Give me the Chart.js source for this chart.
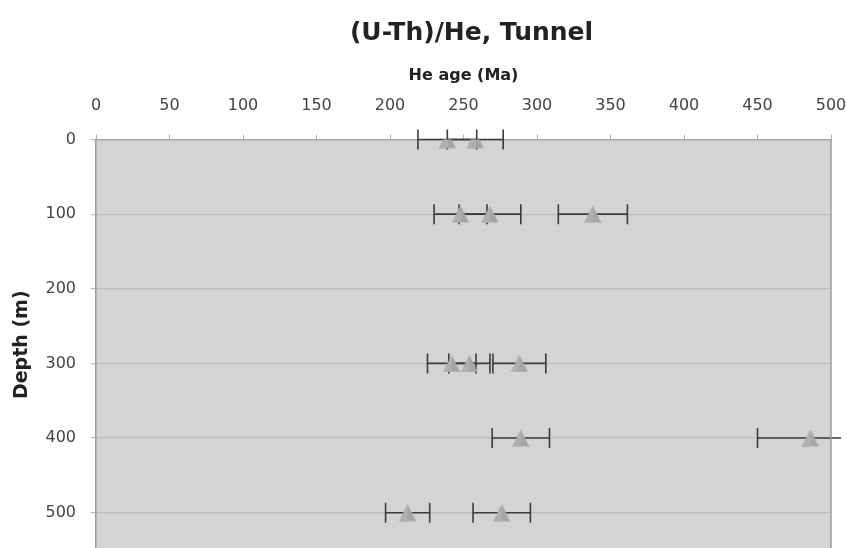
<!DOCTYPE html>
<html>
<head>
<meta charset="utf-8">
<title>(U-Th)/He, Tunnel</title>
<script src="https://cdn.jsdelivr.net/npm/chart.js@4.4.1/dist/chart.umd.min.js"></script>
<style>
    html, body { margin: 0; padding: 0; background: #fff; overflow: hidden; }
    #wrap { width: 847px; height: 560px; position: relative; }
</style>
</head>
<body>
<div id="wrap"><canvas id="he-chart"></canvas></div>
<script>

// He ages (Ma) with 1 sigma error, by sample depth (m)
var depths = [0, 0, 100, 100, 100, 300, 300, 300, 400, 400, 500, 500];
var ages = [239, 258, 248, 268, 338, 242, 254, 288, 289, 486, 212, 276];
var ageErrors = [20, 19, 18, 21, 23.5, 16.5, 14, 18, 19.5, 36, 15, 19.5];

var ageTicks = [0, 50, 100, 150, 200, 250, 300, 350, 400, 450, 500];
var depthTicks = [0, 100, 200, 300, 400, 500];

var fontName = "'DejaVu Sans', Verdana, sans-serif";

function triangleMarker() {
    var c = document.createElement('canvas');
    c.width = 18;
    c.height = 18;
    var g = c.getContext('2d');
    g.beginPath();
    g.moveTo(9, 0.5);
    g.lineTo(17.5, 17.5);
    g.lineTo(0.5, 17.5);
    g.closePath();
    g.fillStyle = '#a6a6a6';
    g.fill();
    // lighter left face
    g.beginPath();
    g.moveTo(9, 0.5);
    g.lineTo(9, 17.5);
    g.lineTo(0.5, 17.5);
    g.closePath();
    g.fillStyle = '#b0b0b0';
    g.fill();
    return c;
}

var points = depths.map(function (d, i) {
    return {x: ages[i], y: d, err: ageErrors[i]};
});

var plotBack = {
    id: 'plotBack',
    afterLayout: function (chart) {
        // title sits centred right of the depth axis
        chart.titleBlock.left = chart.chartArea.left;
        chart.titleBlock.right = chart.width;
    },
    beforeDraw: function (chart) {
        var a = chart.chartArea;
        var ctx = chart.ctx;
        ctx.save();
        ctx.fillStyle = '#d4d4d4';
        ctx.fillRect(a.left, a.top, a.right - a.left, a.bottom - a.top);
        ctx.restore();
    },
    afterDraw: function (chart) {
        var a = chart.chartArea;
        var ctx = chart.ctx;
        ctx.save();
        ctx.strokeStyle = '#9a9a9a';
        ctx.lineWidth = 1.5;
        ctx.beginPath();
        ctx.moveTo(a.right, a.top);
        ctx.lineTo(a.right, a.bottom);
        ctx.stroke();
        ctx.restore();
    }
};

var errorBars = {
    id: 'errorBars',
    beforeDatasetsDraw: function (chart) {
        var ctx = chart.ctx;
        var xs = chart.scales.x;
        var ys = chart.scales.y;
        var a = chart.chartArea;
        ctx.save();
        ctx.beginPath();
        ctx.rect(a.left, a.top - 12, a.right - a.left + 10, a.bottom - a.top + 12);
        ctx.clip();
        ctx.strokeStyle = '#3c3c3c';
        ctx.lineWidth = 1.6;
        points.forEach(function (p) {
            var x1 = xs.getPixelForValue(p.x - p.err);
            var x2 = xs.getPixelForValue(p.x + p.err);
            var y = ys.getPixelForValue(p.y);
            ctx.beginPath();
            ctx.moveTo(x1, y);
            ctx.lineTo(x2, y);
            ctx.moveTo(x1, y - 10);
            ctx.lineTo(x1, y + 10);
            ctx.moveTo(x2, y - 10);
            ctx.lineTo(x2, y + 10);
            ctx.stroke();
        });
        ctx.restore();
    }
};

var ctx2 = document.getElementById('he-chart');

var myChart = new Chart(ctx2, {
    type: 'scatter',
    data: {
        datasets: [{
            label: 'He age',
            data: points,
            pointStyle: triangleMarker(),
            pointRadius: 9,
            pointHoverRadius: 9
        }]
    },
    options: {
        responsive: true,
        maintainAspectRatio: false,
        animation: {duration: 0},
        layout: {padding: {left: 0, right: 16, top: 0, bottom: 9}},
        plugins: {
            legend: {display: false},
            tooltip: {enabled: false},
            title: {
                display: true,
                text: '(U-Th)/He, Tunnel',
                color: '#222',
                font: {family: fontName, size: 25, weight: 'bold'},
                padding: {top: 18, bottom: 6}
            }
        },
        scales: {
            x: {
                type: 'linear',
                position: 'top',
                min: 0,
                max: 500,
                afterBuildTicks: function (scale) {
                    scale.ticks = ageTicks.map(function (v) { return {value: v}; });
                },
                afterFit: function (scale) {
                    scale.height = 85.5;
                    scale.paddingLeft = 0;
                    scale.paddingRight = 0;
                },
                title: {
                    display: true,
                    text: 'He age (Ma)',
                    color: '#222',
                    font: {family: fontName, size: 16, weight: 'bold'},
                    padding: {top: 12, bottom: 0}
                },
                ticks: {
                    color: '#444',
                    font: {family: fontName, size: 16},
                    padding: 19,
                    maxRotation: 0
                },
                grid: {
                    drawOnChartArea: false,
                    color: '#b0b0b0',
                    tickLength: 5
                },
                border: {color: '#a8a8a8', width: 1.5}
            },
            y: {
                type: 'linear',
                reverse: true,
                min: 0,
                max: 550,
                afterBuildTicks: function (scale) {
                    scale.ticks = depthTicks.map(function (v) { return {value: v}; });
                },
                afterFit: function (scale) {
                    scale.width = 96;
                    scale.paddingTop = 0;
                    scale.paddingBottom = 0;
                },
                title: {
                    display: true,
                    text: 'Depth (m)',
                    color: '#222',
                    font: {family: fontName, size: 19, weight: 'bold'},
                    padding: {top: 11, bottom: 0}
                },
                ticks: {
                    color: '#444',
                    font: {family: fontName, size: 16},
                    padding: 15
                },
                grid: {
                    color: '#bdbdbd',
                    lineWidth: 1.2,
                    tickLength: 5
                },
                border: {color: '#9a9a9a', width: 1.5}
            }
        }
    },
    plugins: [plotBack, errorBars]
});
</script>
</body>
</html>
